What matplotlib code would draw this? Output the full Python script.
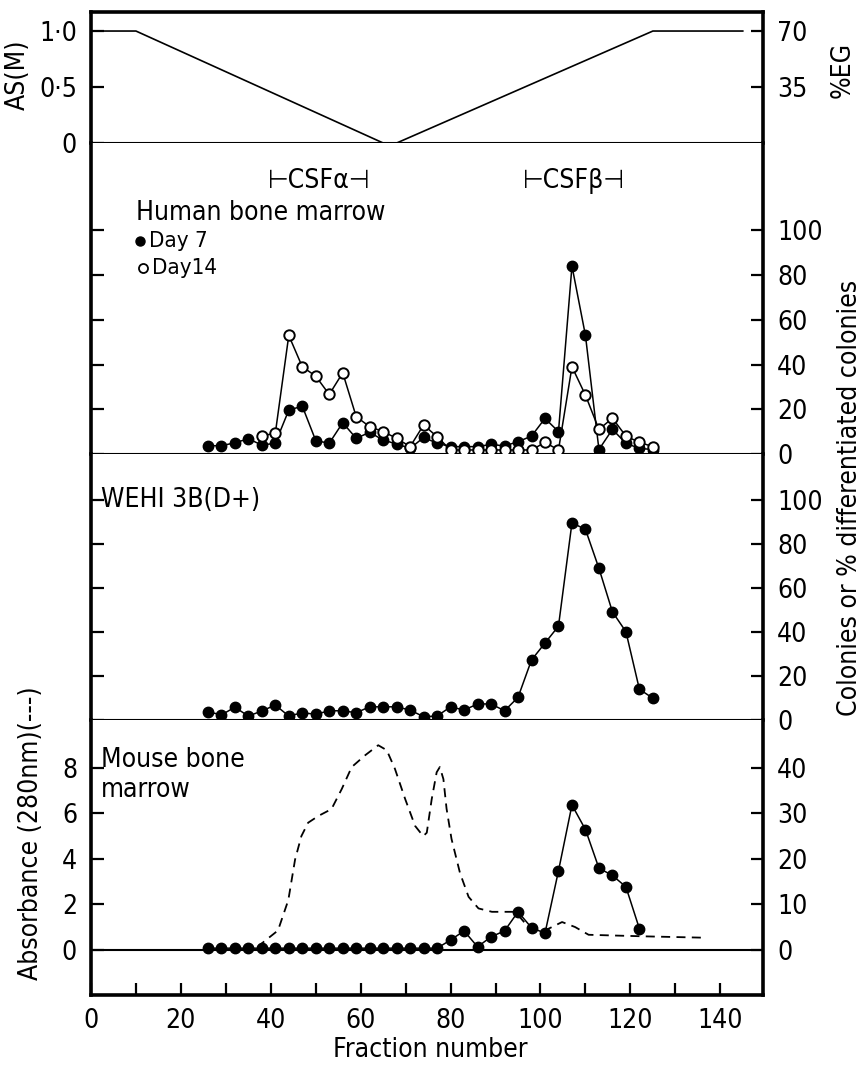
import matplotlib.pyplot as plt

plt.rcParams['font.family'] = ['DejaVu Sans']
plt.rcParams['font.stretch'] = 'condensed'
plt.rcParams['font.size'] = 19

# fraction numbers (every third tube assayed)
fractions = [26, 29, 32, 35, 38, 41, 44, 47, 50, 53, 56, 59, 62, 65, 68, 71, 74,
             77, 80, 83, 86, 89, 92, 95, 98, 101, 104, 107, 110, 113, 116, 119, 122, 125]

# gradient: ammonium sulphate (M) / % ethylene glycol
grad_x = [0, 10, 65, 68, 125, 145]
grad_as = [1.0, 1.0, 0.0, 0.0, 1.0, 1.0]

# human bone marrow colonies
human_day7 = [3.7, 3.7, 5.0, 6.8, 4.0, 4.8, 19.6, 21.4, 6.0, 4.8, 14, 7, 9.7, 6.2, 4.5, 2.5, 7.4,
              4.8, 3.3, 3.3, 3.3, 4.3, 3.6, 5.5, 8.0, 15.9, 10, 84, 53, 2, 11, 4.8, 2.5, 2]
day14_fractions = [38, 41, 44, 47, 50, 53, 56, 59, 62, 65, 68, 71, 74, 77, 80, 83, 86, 89, 92,
                   95, 98, 101, 104, 107, 110, 113, 116, 119, 122, 125]
human_day14 = [8.2, 9.2, 53, 39, 34.8, 26.6, 36.3, 16.7, 12.2, 10, 7, 3.3, 13, 7.7, 1.8, 1.8,
               1.8, 1.8, 1.8, 1.8, 1.8, 5.2, 1.8, 39, 26.3, 11, 16, 8, 5.2, 3.3]

# WEHI-3B(D+) % differentiated colonies
wehi = [3.8, 2.3, 5.8, 1.8, 4.1, 6.8, 1.8, 3.3, 2.6, 4.2, 4.2, 3.3, 6, 6, 6, 4.5, 1.5, 1.8,
        6, 4.5, 7.3, 7.3, 4.2, 10.3, 27.3, 35, 42.7, 89.7, 86.7, 69, 49.2, 40.2, 14, 9.9]

# mouse bone marrow colonies (fractions 26..122)
mouse_fractions = fractions[:33]
mouse = [0.3, 0.3, 0.3, 0.3, 0.3, 0.3, 0.3, 0.3, 0.3, 0.3, 0.3, 0.3, 0.3, 0.3, 0.3, 0.3, 0.3,
         0.3, 2.1, 4.1, 0.6, 2.8, 4.1, 8.3, 4.8, 3.6, 17.3, 31.8, 26.4, 17.9, 16.3, 13.8, 4.6]

# absorbance at 280 nm (dashed trace)
abs_x = [37, 38.3, 41.6, 43.9, 45.4, 46.8, 48.3, 50.6, 53.5, 55.8, 58.0, 61.0, 63.9, 65.8,
         67.6, 69.9, 72.1, 73.9, 74.7, 75.8, 76.9, 77.6, 78.4, 79.1, 80.2, 82.1, 84.0, 86.2,
         89.2, 92.9, 94.4, 97.3, 101, 104.8, 107.7, 110.7, 115.9, 123.3, 136.7]
abs_y = [0.1, 0.32, 0.84, 2.18, 3.96, 4.99, 5.58, 5.88, 6.18, 7.07, 8.03, 8.55, 8.99, 8.77,
         7.96, 6.62, 5.44, 4.99, 5.14, 6.62, 7.8, 8.03, 7.5, 6.2, 4.87, 3.36, 2.32, 1.81,
         1.66, 1.66, 1.66, 0.99, 0.84, 1.21, 0.99, 0.65, 0.62, 0.58, 0.52]

W, H = 864, 1073
L, R = 91, 763


def box(top, bottom):
    return [L / W, 1 - bottom / H, (R - L) / W, (bottom - top) / H]


fig = plt.figure(figsize=(W / 100, H / 100), dpi=100)
ax_t = fig.add_axes(box(12, 143))
ax_h = fig.add_axes(box(143, 454), sharex=ax_t)
ax_w = fig.add_axes(box(454, 720), sharex=ax_t)
ax_m = fig.add_axes(box(720, 995), sharex=ax_t)
axes = [ax_t, ax_h, ax_w, ax_m]

ax_t.set_xlim(0, 149.5)
ax_t.set_ylim(0, 1.17)
ax_h.set_ylim(0, 139)
ax_w.set_ylim(0, 121)
ax_m.set_ylim(-2.0, 10.1)

tick_kw = dict(direction='in', length=9, width=1.6, pad=10)
for ax in axes:
    for s in ['left', 'right']:
        ax.spines[s].set_linewidth(2.6)
    ax.spines['top'].set_linewidth(1.5)
    ax.spines['bottom'].set_linewidth(1.5)
    ax.tick_params(axis='both', **tick_kw)
    ax.tick_params(axis='x', bottom=False, labelbottom=False)
ax_t.spines['top'].set_linewidth(2.6)
ax_m.spines['bottom'].set_linewidth(2.6)
for ax in [ax_h, ax_w, ax_m]:
    ax.spines['top'].set_visible(False)

# top panel: gradient
ax_t.plot(grad_x, grad_as, color='k', lw=1.2)
ax_t.set_yticks([0, 0.5, 1.0])
ax_t.set_yticklabels(['0', '0·5', '1·0'])
ax_t2 = ax_t.twinx()
ax_t2.set_ylim(ax_t.get_ylim())
ax_t2.set_yticks([0.5, 1.0])
ax_t2.set_yticklabels(['35', '70'])
ax_t2.tick_params(axis='y', **tick_kw)
for s in ax_t2.spines.values():
    s.set_visible(False)

# human bone marrow
ax_h.plot(fractions, human_day7, color='k', lw=1.1, marker='o', ms=7.5,
          mfc='k', mec='k', clip_on=False, zorder=3)
ax_h.plot(day14_fractions, human_day14, color='k', lw=1.1, marker='o', ms=7.5,
          mfc='white', mec='k', mew=1.4, clip_on=False, zorder=4)
ax_h.set_yticks([0, 20, 40, 60, 80, 100])
ax_h.tick_params(axis='y', left=True, right=True, labelleft=False, labelright=True)
ax_h.text(10, 107.5, 'Human bone marrow', ha='left', va='center')
ax_h.plot([11], [95], marker='o', ms=6.5, color='k', clip_on=False)
ax_h.text(13, 95, 'Day 7', ha='left', va='center', fontsize=16)
ax_h.plot([11.5], [83], marker='o', ms=6.5, mfc='white', mec='k', mew=1.3, clip_on=False)
ax_h.text(13.5, 83, 'Day14', ha='left', va='center', fontsize=16)
ax_h.text(50.7, 122, '⊢CSFα⊣', ha='center', va='center')
ax_h.text(107.5, 122, '⊢CSFβ⊣', ha='center', va='center')

# WEHI-3B(D+)
ax_w.plot(fractions, wehi, color='k', lw=1.1, marker='o', ms=7.5,
          mfc='k', mec='k', clip_on=False, zorder=3)
ax_w.set_yticks([0, 20, 40, 60, 80, 100])
ax_w.tick_params(axis='y', left=True, right=True, labelleft=False, labelright=True)
ax_w.text(2.2, 100, 'WEHI 3B(D+)', ha='left', va='center')

# mouse bone marrow
ax_m.axhline(0, color='k', lw=1.5)
ax_m.plot(abs_x, abs_y, color='k', lw=1.3, ls=(0, (5, 3.5)))
ax_m.set_yticks([0, 2, 4, 6, 8])
ax_m.tick_params(axis='y', right=False)
ax_m2 = ax_m.twinx()
ax_m2.set_ylim(-10, 50.5)
ax_m2.plot(mouse_fractions, mouse, color='k', lw=1.1, marker='o', ms=7.5,
           mfc='k', mec='k', clip_on=False, zorder=3)
ax_m2.set_yticks([0, 10, 20, 30, 40])
ax_m2.tick_params(axis='y', **tick_kw)
for s in ax_m2.spines.values():
    s.set_visible(False)
ax_m.text(2.2, 7.7, 'Mouse bone\nmarrow', ha='left', va='center', linespacing=1.2)

ax_m.set_xticks(list(range(0, 150, 10)))
ax_m.set_xticklabels([str(v) if v % 20 == 0 else '' for v in range(0, 150, 10)])
ax_m.tick_params(axis='x', bottom=True, labelbottom=True, direction='in',
                 length=9, width=1.6, pad=9)

fig.text(18 / W, 1 - 75 / H, 'AS(M)', rotation=90, ha='center', va='center')
fig.text(843 / W, 1 - 70 / H, '%EG', rotation=90, ha='center', va='center')
fig.text(850 / W, 1 - 498 / H, 'Colonies or % differentiated colonies',
         rotation=90, ha='center', va='center')
fig.text(31 / W, 1 - 833 / H, 'Absorbance (280nm)(---)', rotation=90,
         ha='center', va='center')
fig.text(430 / W, 1 - 1050 / H, 'Fraction number', ha='center', va='center')

fig.savefig('out.png', dpi=100, facecolor='white')
